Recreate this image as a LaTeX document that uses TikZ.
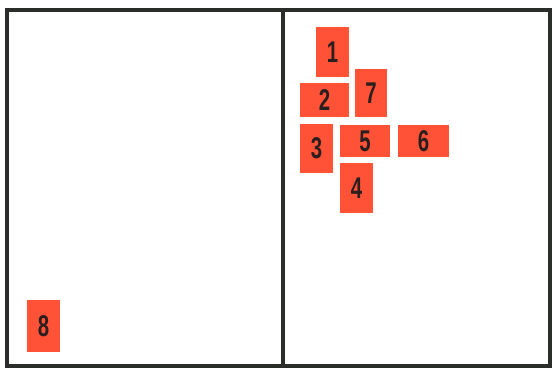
\documentclass[tikz,border=0pt]{standalone}
\usepackage{fontspec}
\newfontfamily\digitfont[FakeStretch=0.68]{Liberation Sans}
\definecolor{tag}{HTML}{FF5236}
\definecolor{ink}{HTML}{2A1E1E}
\definecolor{frame}{HTML}{2B2D2B}
\begin{document}
\begin{tikzpicture}[x=1pt,y=-1pt,
  tagbox/.style={fill=tag,draw=none,inner sep=0pt,text=ink,font=\digitfont\bfseries\fontsize{30}{30}\selectfont},
  framebar/.style={draw=frame,line width=4.2pt}]
\useasboundingbox (0,0) rectangle (552,368);
\fill[white] (0,0) rectangle (552,368);
\draw[framebar] (7,10) rectangle (550,366);
\draw[framebar] (283,10) -- (283,366);
\node[tagbox,minimum width=33pt,minimum height=50pt] (n1) at (332.5,52) {1};
\node[tagbox,minimum width=49pt,minimum height=34pt] (n2) at (324.5,100) {2};
\node[tagbox,minimum width=32pt,minimum height=48pt] (n7) at (371,93) {7};
\node[tagbox,minimum width=33pt,minimum height=49pt] (n3) at (316.5,148.5) {3};
\node[tagbox,minimum width=50pt,minimum height=32pt] (n5) at (365,141) {5};
\node[tagbox,minimum width=51pt,minimum height=32pt] (n6) at (423.5,141) {6};
\node[tagbox,minimum width=33pt,minimum height=50pt] (n4) at (356.5,188) {4};
\node[tagbox,minimum width=33pt,minimum height=52pt] (n8) at (43.5,326) {8};
\end{tikzpicture}
\end{document}
